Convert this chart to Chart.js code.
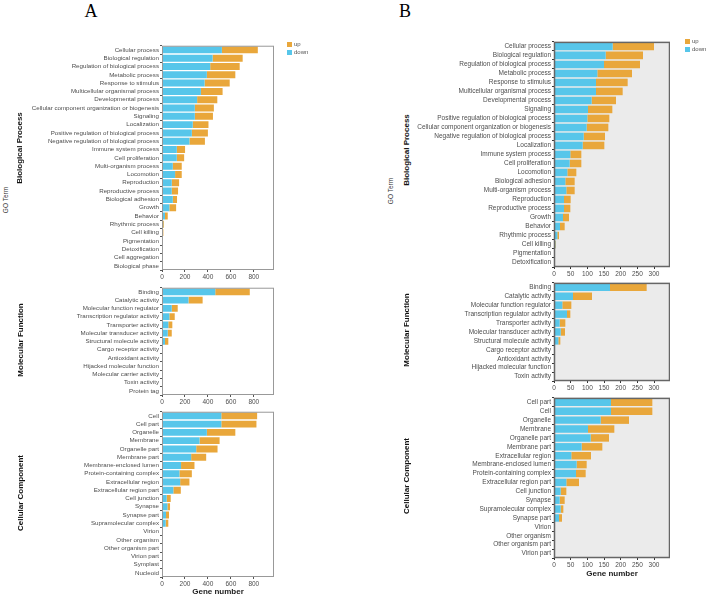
<!DOCTYPE html>
<html>
<head>
<meta charset="utf-8">
<script src="https://cdn.jsdelivr.net/npm/chart.js@4.4.1/dist/chart.umd.min.js"></script>
<style>
  html, body { margin: 0; padding: 0; background: #fff; }
  #page { position: relative; width: 708px; height: 596px; overflow: hidden; font-family: "Liberation Sans", Arial, sans-serif; }
  canvas { position: absolute; }
  .txt { position: absolute; white-space: nowrap; }
  .rot { transform: translate(-50%, -50%) rotate(-90deg); }
  .ctr { transform: translate(-50%, -50%); }
  .panel { font-family: "Liberation Serif", "DejaVu Serif", serif; font-size: 18px; color: #000; }
  .facet { font-size: 8px; font-weight: bold; color: #111; }
  .goterm { font-size: 6.5px; color: #333; }
  .xlab { font-size: 8px; font-weight: bold; color: #222; }
  .key { position: absolute; width: 5px; height: 5px; }
  .keytxt { position: absolute; font-size: 6px; color: #555; }
</style>
</head>
<body>
<div id="page"></div>
<script>
'use strict';

// ---- data: panel A ----
var bpTermsA = ['Cellular process', 'Biological regulation', 'Regulation of biological process', 'Metabolic process',
  'Response to stimulus', 'Multicellular organismal process', 'Developmental process',
  'Cellular component organization or biogenesis', 'Signaling', 'Localization',
  'Positive regulation of biological process', 'Negative regulation of biological process',
  'Immune system process', 'Cell proliferation', 'Multi-organism process', 'Locomotion', 'Reproduction',
  'Reproductive process', 'Biological adhesion', 'Growth', 'Behavior', 'Rhythmic process', 'Cell killing',
  'Pigmentation', 'Detoxification', 'Cell aggregation', 'Biological phase'];
var bpDownA = [522, 441, 420, 391, 371, 339, 306, 286, 286, 268, 260, 239, 129, 129, 94, 114, 85, 85, 94, 64, 26, 10, 8, 4, 3, 1, 0];
var bpUpA = [313, 262, 257, 248, 219, 189, 176, 166, 158, 137, 140, 135, 72, 64, 78, 58, 64, 55, 37, 59, 24, 7, 4, 2, 2, 1, 1];

var mfTermsA = ['Binding', 'Catalytic activity', 'Molecular function regulator', 'Transcription regulator activity',
  'Transporter activity', 'Molecular transducer activity', 'Structural molecule activity', 'Cargo receptor activity',
  'Antioxidant activity', 'Hijacked molecular function', 'Molecular carrier activity', 'Toxin activity', 'Protein tag'];
var mfDownA = [464, 231, 85, 64, 55, 50, 26, 2, 1, 0, 0, 0, 0];
var mfUpA = [301, 123, 52, 47, 35, 35, 29, 1, 1, 1, 1, 1, 1];

var ccTermsA = ['Cell', 'Cell part', 'Organelle', 'Membrane', 'Organelle part', 'Membrane part',
  'Membrane-enclosed lumen', 'Protein-containing complex', 'Extracellular region', 'Extracellular region part',
  'Cell junction', 'Synapse', 'Synapse part', 'Supramolecular complex', 'Virion', 'Other organism',
  'Other organism part', 'Virion part', 'Symplast', 'Nucleoid'];
var ccDownA = [517, 517, 391, 327, 298, 254, 166, 152, 158, 99, 41, 47, 35, 32, 1, 0, 0, 0, 0, 0];
var ccUpA = [312, 306, 248, 175, 186, 131, 117, 108, 81, 65, 35, 23, 26, 23, 0, 1, 1, 1, 1, 1];

var ticksA = [0, 200, 400, 600, 800];

// ---- data: panel B ----
var bpTermsB = ['Cellular process', 'Biological regulation', 'Regulation of biological process', 'Metabolic process',
  'Response to stimulus', 'Multicellular organismal process', 'Developmental process', 'Signaling',
  'Positive regulation of biological process', 'Cellular component organization or biogenesis',
  'Negative regulation of biological process', 'Localization', 'Immune system process', 'Cell proliferation',
  'Locomotion', 'Biological adhesion', 'Multi-organism process', 'Reproduction', 'Reproductive process',
  'Growth', 'Behavior', 'Rhythmic process', 'Cell killing', 'Pigmentation', 'Detoxification'];
var bpDownB = [176, 155, 150, 130, 126, 126, 113, 102, 100, 98, 89, 86, 49, 47, 40, 34, 37, 30, 30, 27, 18, 10, 4, 0, 0];
var bpUpB = [124, 112, 108, 104, 95, 80, 73, 73, 66, 65, 64, 65, 33, 35, 27, 28, 25, 20, 19, 18, 14, 5, 2, 2, 1];

var mfTermsB = ['Binding', 'Catalytic activity', 'Molecular function regulator', 'Transcription regulator activity',
  'Transporter activity', 'Molecular transducer activity', 'Structural molecule activity', 'Cargo receptor activity',
  'Antioxidant activity', 'Hijacked molecular function', 'Toxin activity'];
var mfDownB = [168, 57, 25, 39, 17, 20, 13, 1, 0, 0, 0];
var mfUpB = [110, 57, 27, 10, 17, 13, 6, 0, 2, 0.5, 0.5];

var ccTermsB = ['Cell part', 'Cell', 'Organelle', 'Membrane', 'Organelle part', 'Membrane part',
  'Extracellular region', 'Membrane-enclosed lumen', 'Protein-containing complex', 'Extracellular region part',
  'Cell junction', 'Synapse', 'Supramolecular complex', 'Synapse part', 'Virion', 'Other organism',
  'Other organism part', 'Virion part'];
var ccDownB = [171, 171, 140, 102, 110, 83, 52, 68, 66, 37, 20, 17, 20, 15, 2, 0, 0, 0];
var ccUpB = [124, 124, 85, 79, 55, 62, 59, 30, 29, 38, 17, 15, 8, 9, 0, 0.5, 0.5, 0.5];

var ticksB = [0, 50, 100, 150, 200, 250, 300];

var seriesNames = ['up', 'down'];

var COLOR_UP = '#E9A73B';
var COLOR_DOWN = '#57C6EA';
var page = document.getElementById('page');

// draws panel background + frame around the plotting box
var framePlugin = {
  id: 'frame',
  beforeDatasetsDraw: function(chart, args, opts) {
    if (!opts.fill) return;
    var a = chart.chartArea, ctx = chart.ctx;
    ctx.save();
    ctx.fillStyle = opts.fill;
    ctx.fillRect(a.left, a.top, a.right - a.left, a.bottom - a.top);
    ctx.restore();
  },
  afterDraw: function(chart, args, opts) {
    var a = chart.chartArea, ctx = chart.ctx;
    ctx.save();
    ctx.strokeStyle = opts.stroke || '#888';
    ctx.lineWidth = opts.width || 1;
    ctx.strokeRect(a.left + 0.5, a.top + 0.5, a.right - a.left - 1, a.bottom - a.top - 1);
    ctx.restore();
  }
};

function addText(cls, text, x, y) {
  var d = document.createElement('div');
  d.className = 'txt ' + cls;
  d.textContent = text;
  d.style.left = x + 'px';
  d.style.top = y + 'px';
  page.appendChild(d);
  return d;
}

function addKey(x, y) {
  var cols = [COLOR_UP, COLOR_DOWN];
  seriesNames.forEach(function(name, i) {
    var sq = document.createElement('div');
    sq.className = 'key';
    sq.style.background = cols[i];
    sq.style.left = x + 'px';
    sq.style.top = (y + i * 8) + 'px';
    page.appendChild(sq);
    var t = document.createElement('div');
    t.className = 'keytxt';
    t.textContent = name;
    t.style.left = (x + 7) + 'px';
    t.style.top = (y - 1.5 + i * 8) + 'px';
    page.appendChild(t);
  });
}

function facet(f) {
  var axisH = 14;
  var canvas = document.createElement('canvas');
  canvas.width = f.labelW + f.boxW;
  canvas.height = f.boxH + axisH + 1;
  canvas.style.left = f.left + 'px';
  canvas.style.top = (f.top - 1) + 'px';
  page.appendChild(canvas);

  var tickColor = f.bg ? '#333' : '#555';
  return new Chart(canvas, {
    type: 'bar',
    data: {
      labels: f.terms,
      datasets: [
        { label: seriesNames[1], data: f.down, backgroundColor: COLOR_DOWN, barPercentage: 0.84, categoryPercentage: 1 },
        { label: seriesNames[0], data: f.up, backgroundColor: COLOR_UP, barPercentage: 0.84, categoryPercentage: 1 }
      ]
    },
    options: {
      indexAxis: 'y',
      responsive: false,
      animation: false,
      devicePixelRatio: 1,
      layout: { padding: { top: 1, right: 0, left: 0, bottom: 0 } },
      plugins: {
        legend: { display: false },
        tooltip: { enabled: false },
        frame: { fill: f.bg, stroke: f.bg ? '#666' : '#999', width: f.bg ? 1.5 : 1 }
      },
      scales: {
        y: {
          stacked: true,
          offset: true,
          border: { display: false },
          grid: { drawOnChartArea: false, drawTicks: true, tickLength: 2, color: tickColor },
          ticks: { color: '#4d4d4d', padding: 1, autoSkip: false, font: { family: 'Liberation Sans', size: f.fs } },
          afterFit: function(scale) { scale.width = f.labelW; }
        },
        x: {
          stacked: true,
          min: 0,
          max: f.max,
          border: { display: false },
          grid: { drawOnChartArea: false, drawTicks: true, tickLength: 2, color: tickColor },
          ticks: { color: '#4d4d4d', padding: 1, maxRotation: 0, font: { family: 'Liberation Sans', size: 6.5 } },
          afterBuildTicks: function(scale) {
            scale.ticks = f.ticks.map(function(v) { return { value: v }; });
          },
          afterFit: function(scale) { scale.height = axisH; }
        }
      }
    },
    plugins: [framePlugin]
  });
}

// panel A
facet({ left: 22, top: 42, labelW: 140, boxW: 112, boxH: 228, max: 976, fs: 6.2, ticks: ticksA, terms: bpTermsA, down: bpDownA, up: bpUpA });
facet({ left: 22, top: 284, labelW: 140, boxW: 112, boxH: 111, max: 976, fs: 6.2, ticks: ticksA, terms: mfTermsA, down: mfDownA, up: mfUpA });
facet({ left: 22, top: 408, labelW: 140, boxW: 112, boxH: 169, max: 976, fs: 6.2, ticks: ticksA, terms: ccTermsA, down: ccDownA, up: ccUpA });

// panel B
facet({ left: 412, top: 38, labelW: 142, boxW: 116, boxH: 229, max: 348, fs: 6.5, ticks: ticksB, terms: bpTermsB, down: bpDownB, up: bpUpB, bg: '#EBEBEB' });
facet({ left: 412, top: 279, labelW: 142, boxW: 116, boxH: 102, max: 348, fs: 6.5, ticks: ticksB, terms: mfTermsB, down: mfDownB, up: mfUpB, bg: '#EBEBEB' });
facet({ left: 412, top: 394, labelW: 142, boxW: 116, boxH: 164, max: 348, fs: 6.5, ticks: ticksB, terms: ccTermsB, down: ccDownB, up: ccUpB, bg: '#EBEBEB' });

// labels
addText('panel ctr', 'A', 91, 11);
addText('panel ctr', 'B', 405, 11);

addText('goterm rot', 'GO Term', 5, 200);
addText('facet rot', 'Biological Process', 19, 148);
addText('facet rot', 'Molecular Function', 20, 340);
addText('facet rot', 'Cellular Component', 20, 493);
addText('xlab ctr', 'Gene number', 218, 591);

addText('goterm rot', 'GO Term', 390, 191);
addText('facet rot', 'Biological Process', 406, 150);
addText('facet rot', 'Molecular Function', 406, 330);
addText('facet rot', 'Cellular Component', 406, 476);
addText('xlab ctr', 'Gene number', 612, 573);

addKey(287, 42);
addKey(685, 39);
</script>
</body>
</html>
